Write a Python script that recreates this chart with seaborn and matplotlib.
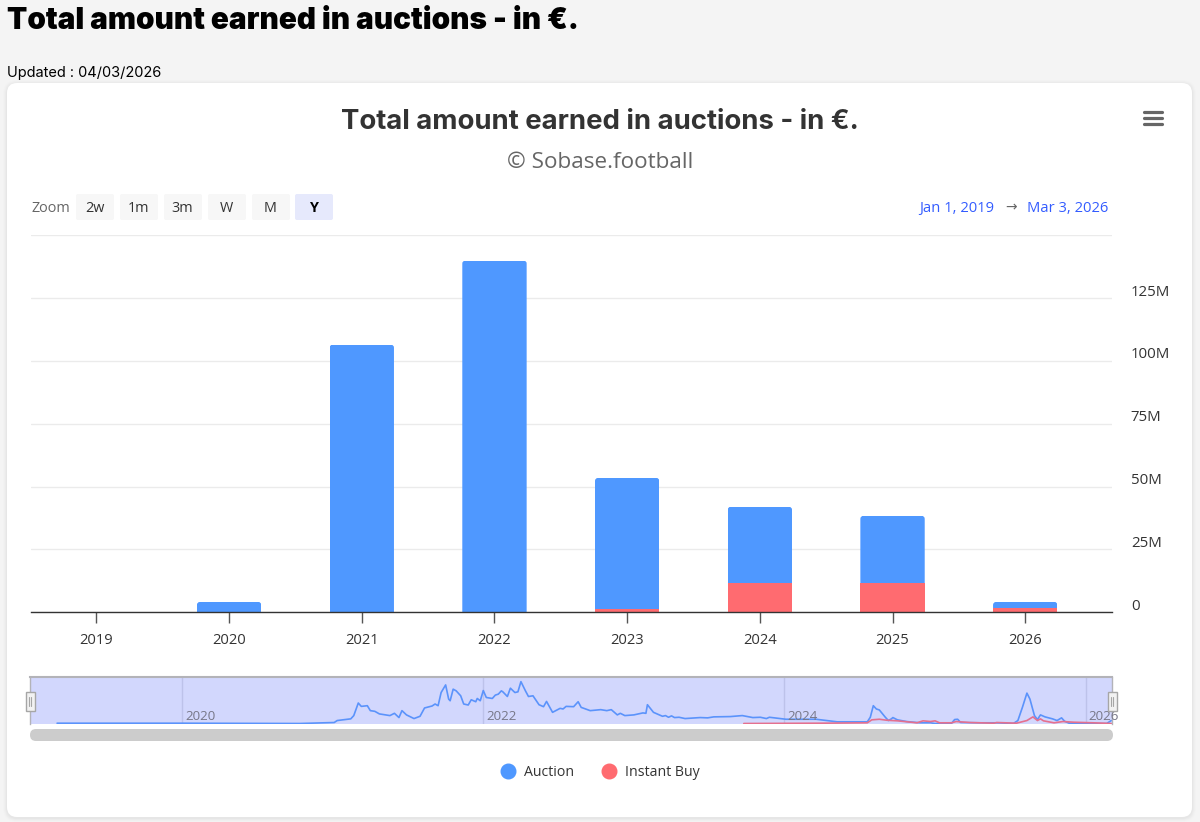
import matplotlib
matplotlib.use("Agg")
import matplotlib.pyplot as plt
from matplotlib.lines import Line2D
from matplotlib.patches import FancyBboxPatch, Rectangle
from matplotlib.transforms import ScaledTranslation
import numpy as np
import seaborn as sns

# yearly totals, millions of euros
years = ["2019", "2020", "2021", "2022", "2023", "2024", "2025", "2026"]
auction = [0, 4, 106.5, 140, 52.4, 30.4, 26.8, 2.4]
instant_buy = [0, 0, 0, 0, 1, 11.5, 11.5, 1.6]
y_ticks = [0, 25, 50, 75, 100, 125, 150]
y_tick_labels = ["0", "25M", "50M", "75M", "100M", "125M", ""]

# navigator lines under the chart
nav_auction_t = [
    2019.17, 2020.00, 2020.78, 2021.01, 2021.03, 2021.12, 2021.14, 2021.17, 2021.19, 2021.23,
    2021.25, 2021.28, 2021.31, 2021.38, 2021.41, 2021.44, 2021.46, 2021.49, 2021.54, 2021.58,
    2021.61, 2021.66, 2021.68, 2021.70, 2021.72, 2021.75, 2021.77, 2021.78, 2021.80, 2021.82,
    2021.85, 2021.87, 2021.90, 2021.92, 2021.95, 2021.96, 2021.98, 2022.00, 2022.02, 2022.06,
    2022.08, 2022.10, 2022.12, 2022.13, 2022.16, 2022.18, 2022.21, 2022.23, 2022.25, 2022.28,
    2022.30, 2022.33, 2022.37, 2022.40, 2022.42, 2022.46, 2022.49, 2022.51, 2022.53, 2022.55,
    2022.60, 2022.63, 2022.65, 2022.71, 2022.78, 2022.82, 2022.85, 2022.89, 2022.91, 2022.94,
    2023.00, 2023.06, 2023.08, 2023.09, 2023.13, 2023.19, 2023.21, 2023.23, 2023.25, 2023.27,
    2023.30, 2023.34, 2023.44, 2023.49, 2023.53, 2023.64, 2023.72, 2023.79, 2023.84, 2023.88,
    2023.90, 2024.01, 2024.21, 2024.35, 2024.55, 2024.57, 2024.59, 2024.61, 2024.63, 2024.67,
    2024.69, 2024.71, 2024.72, 2024.75, 2024.81, 2024.86, 2024.90, 2024.97, 2025.00, 2025.11,
    2025.13, 2025.15, 2025.17, 2025.30, 2025.41, 2025.52, 2025.55, 2025.58, 2025.61, 2025.63,
    2025.66, 2025.68, 2025.70, 2025.73, 2025.78, 2025.81, 2025.84, 2025.86, 2025.89, 2026.01,
    2026.14, 2026.17,
]
nav_auction_v = [
    0.3, 0.3, 0, 1, 3, 4.7, 8, 20.7, 17.3, 18,
    13, 12.3, 9.7, 8, 10.3, 6, 13, 8.7, 5, 7.3,
    15.7, 17.7, 19.7, 18, 31.3, 39, 24.7, 23, 34.7, 33,
    28, 19.7, 18.7, 24, 22, 25.3, 23, 33.3, 26.3, 25.3,
    28.7, 29.7, 33, 32, 27.3, 35.7, 31.3, 32, 42.3, 33,
    27.3, 28, 19, 17, 22.3, 11.3, 13.7, 15.3, 14.7, 17.3,
    17, 22, 16.3, 13, 14, 13, 14, 8.7, 10.3, 8,
    8.7, 10.7, 10.3, 19, 11.3, 7.3, 8, 6.3, 7.7, 6,
    6.3, 5, 6, 5.7, 6.7, 7, 8, 6, 6.3, 5,
    6.3, 4.3, 4.3, 1.7, 1.7, 6.3, 18, 14.7, 13.7, 6.3,
    3, 4.7, 6, 3.7, 2, 1.3, 0.7, 0.7, 0, 0.3,
    4, 4.3, 1, 0.7, 0.7, 0, 3, 16.3, 30.7, 24.7,
    8, 4, 8.7, 6.7, 4.7, 3, 5.7, 2.3, 0.3, 0,
    0, 3,
]
nav_instant_t = [
    2023.73, 2024.24, 2024.55, 2024.58, 2024.63, 2024.68, 2024.75, 2024.88, 2024.92, 2024.97,
    2025.00, 2025.03, 2025.11, 2025.14, 2025.23, 2025.39, 2025.41, 2025.54, 2025.61, 2025.65,
    2025.68, 2025.70, 2025.72, 2025.79, 2025.85, 2025.92, 2026.05, 2026.17,
]
nav_instant_v = [
    0, 0.3, 0.7, 3.7, 4.3, 3.3, 2.7, 0.7, 2.7, 2,
    2.7, 0.7, 0.7, 2, 1, 0.3, 1, 0.3, 3, 6.7,
    3, 4.7, 2.7, 0.7, 2, 1.3, 0.7, 0,
]
nav_years = [2020, 2022, 2024, 2026]

BLUE = "#4f98ff"
RED = "#ff6b70"
W, H = 1200, 822
UI_FONT = ["Open Sans", "DejaVu Sans"]
HEAD_FONT = ["Inter", "DejaVu Sans"]

sns.set_theme(style="white")
plt.rcParams["font.family"] = UI_FONT

fig = plt.figure(figsize=(12, 8.22), dpi=100, facecolor="#f4f4f4")


def px_axes(left, top, right, bottom, **kw):
    return fig.add_axes([left / W, 1 - bottom / H, (right - left) / W, (bottom - top) / H], **kw)


# page furniture, drawn in pixel coordinates
bg = px_axes(0, 0, W, H, zorder=0)
bg.set_xlim(0, W)
bg.set_ylim(H, 0)
bg.axis("off")


def rbox(x0, y0, x1, y1, r, color, **kw):
    box = FancyBboxPatch((x0, y0), x1 - x0, y1 - y0, boxstyle=f"round,pad=0,rounding_size={r}",
                         fc=color, ec="none", **kw)
    bg.add_patch(box)
    return box


for grow, alpha in [(4, 0.008), (3, 0.012), (2, 0.016), (1, 0.02)]:
    rbox(7 - grow, 83 - grow + 1, 1192 + grow, 817 + grow + 1, 10 + grow, "black", alpha=alpha)
rbox(7, 83, 1192, 817, 10, "white")

bg.text(7, 21, "Total amount earned in auctions - in €.", fontsize=21.4, fontweight="black",
        family=HEAD_FONT, color="black", va="center")
bg.text(7, 73, "Updated : 04/03/2026", fontsize=10.5, family=HEAD_FONT, color="black", va="center")
bg.text(600, 122, "Total amount earned in auctions - in €.", fontsize=19.8, fontweight="bold",
        family=HEAD_FONT, color="#333333", ha="center", va="center")
bg.text(600, 162, "© Sobase.football", fontsize=16.2, color="#666666", ha="center", va="center")

for y in [112, 118, 124]:
    bg.plot([1144, 1162], [y, y], color="#666666", lw=2.3, solid_capstyle="round")

bg.text(31, 208, "Zoom", fontsize=10.4, color="#666666", va="center")
zoom_labels = ["2w", "1m", "3m", "W", "M", "Y"]
zoom_left = [76, 120, 164, 208, 252, 295]
for label, x in zip(zoom_labels, zoom_left):
    active = label == "Y"
    rbox(x, 194, x + 38, 220, 2, "#e6e9fc" if active else "#f7f7f7")
    bg.text(x + 18.5, 208, label, fontsize=10.4, color="black" if active else "#333333",
            fontweight="bold" if active else "normal", ha="center", va="center")

bg.text(957, 208, "Jan 1, 2019", fontsize=10.6, color="#335cff", ha="center", va="center")
bg.text(1011, 208, "→", fontsize=10, color="#666666", ha="center", va="center")
bg.text(1068, 208, "Mar 3, 2026", fontsize=10.6, color="#335cff", ha="center", va="center")

rbox(30, 729, 1113, 741, 6, "#cccccc")

# main chart
ax = px_axes(31, 235.5, 1112, 612, zorder=1)
ax.patch.set_alpha(0)
totals = np.array(auction) + np.array(instant_buy)
sns.barplot(x=years, y=totals, color=BLUE, saturation=1, width=0.485, linewidth=0, ax=ax)
n_blue = len(ax.patches)
sns.barplot(x=years, y=instant_buy, color=RED, saturation=1, width=0.485, linewidth=0, ax=ax)

ax.set_xlim(-0.493, 7.654)
ax.set_ylim(0, 150)

# rounded top corners on the blue bars
for bar in ax.patches[:n_blue]:
    x, w, h = bar.get_x(), bar.get_width(), bar.get_height()
    if h <= 0:
        continue
    clip = FancyBboxPatch((x, -10), w, h + 10, boxstyle=f"round,pad=0,rounding_size={3 / 132.7}",
                          mutation_aspect=52.9, transform=ax.transData)
    bar.set_clip_path(clip)

ax.set_yticks(y_ticks)
ax.set_yticklabels(y_tick_labels)
ax.yaxis.tick_right()
ax.tick_params(axis="y", length=0, pad=13.5, labelsize=10.8, labelcolor="#333333")
nudge = ScaledTranslation(0, -1.5 / 100, fig.dpi_scale_trans)
for label in ax.get_yticklabels():
    label.set_va("bottom")
    label.set_transform(label.get_transform() + nudge)
ax.tick_params(axis="x", bottom=True, length=8, width=1, color="#555555", pad=7, labelsize=10.6, labelcolor="#333333")
ax.grid(axis="y", color="#ebebeb", lw=1)
ax.set_axisbelow(True)
for side in ["top", "left", "right"]:
    ax.spines[side].set_visible(False)
ax.spines["bottom"].set_color("#333333")
ax.spines["bottom"].set_linewidth(1)
ax.set_xlabel("")
ax.set_ylabel("")

# navigator
nav = px_axes(30, 677, 1112, 724, zorder=1)
nav.set_facecolor("#d2d7fd")
sns.lineplot(x=nav_auction_t, y=nav_auction_v, color="#5b93fb", lw=1.2, errorbar=None, ax=nav)
sns.lineplot(x=nav_instant_t, y=nav_instant_v, color="#e5708f", lw=1.2, errorbar=None, ax=nav)
nav.set_xlim(2018.99, 2026.175)
nav.set_ylim(-0.5, 47)
nav.set_xticks([])
nav.set_yticks([])
nav.set_xlabel("")
nav.set_ylabel("")
for yr in nav_years:
    nav.axvline(yr, color="#bdc2ea", lw=1, zorder=0.5)
    nav.annotate(str(yr), (yr, 0), xytext=(2.3, 2.5), textcoords="offset points", fontsize=9.6,
                 color="#777788", annotation_clip=False)
nav.spines["bottom"].set_visible(False)
for side in ["top", "left", "right"]:
    nav.spines[side].set_color("#b3b3b8")
nav.spines["top"].set_linewidth(1.5)
nav.spines["left"].set_linewidth(1)
nav.spines["right"].set_linewidth(1)

# navigator handles sit on top of everything
top = px_axes(0, 0, W, H, zorder=3)
top.set_xlim(0, W)
top.set_ylim(H, 0)
top.axis("off")
for x in [30, 1112]:
    top.add_patch(Rectangle((x - 4.5, 692), 9, 19, fc="#f2f2f2", ec="#a6a6a6", lw=1))
    top.plot([x - 1.2, x - 1.2], [697, 706], color="#a6a6a6", lw=0.8)
    top.plot([x + 1.2, x + 1.2], [697, 706], color="#a6a6a6", lw=0.8)

handles = [
    Line2D([], [], ls="", marker="o", ms=10.5, color=BLUE, label="Auction"),
    Line2D([], [], ls="", marker="o", ms=10.5, color=RED, label="Instant Buy"),
]
fig.legend(handles=handles, loc="center", bbox_to_anchor=(597 / W, 1 - 772 / H), ncol=2, frameon=False,
           fontsize=10.2, labelcolor="#333333", handletextpad=0.1, columnspacing=1.5)

fig.savefig("out.png", dpi=100, facecolor=fig.get_facecolor())
